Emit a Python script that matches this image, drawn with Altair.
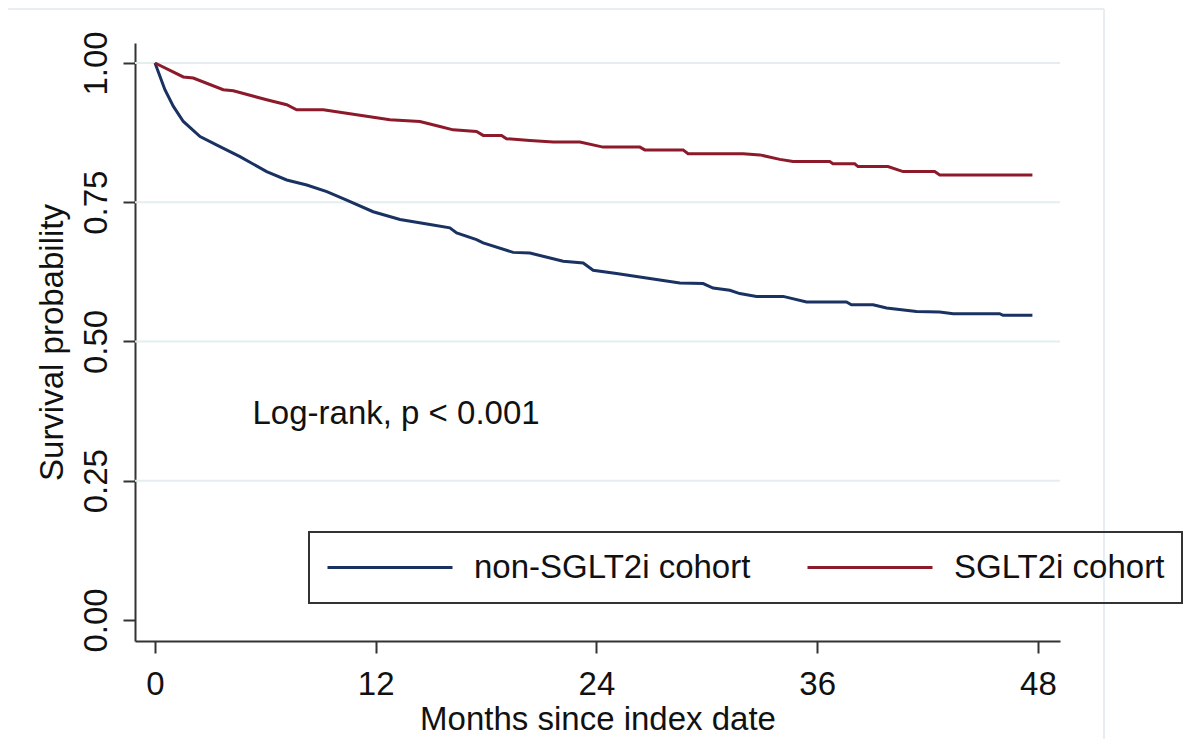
import altair as alt
import pandas as pd

# ---- data ----
groups = ["non-SGLT2i cohort", "SGLT2i cohort"]
colors = ["#1a3262", "#8c1a2a"]

months_non = [0, 0.54, 1.0, 1.54, 2.45, 3.53, 4.62, 6.07, 7.16, 8.25, 9.34, 10.42,
              11.86, 13.32, 14.95, 16.03, 16.4, 17.48, 17.84, 19.47, 20.38, 22.19,
              23.28, 23.82, 25.09, 26.72, 28.53, 29.8, 30.34, 31.25, 31.79, 32.7,
              34.15, 35.42, 37.59, 37.86, 39.04, 39.77, 41.4, 42.66, 43.39, 45.92,
              46.1, 47.7]
surv_non = [1.0, 0.952, 0.922, 0.895, 0.868, 0.850, 0.832, 0.805, 0.790, 0.781, 0.769,
            0.754, 0.733, 0.719, 0.710, 0.704, 0.695, 0.683, 0.677, 0.660, 0.659, 0.644,
            0.641, 0.628, 0.622, 0.614, 0.605, 0.604, 0.596, 0.592, 0.586, 0.581,
            0.581, 0.571, 0.571, 0.566, 0.566, 0.560, 0.554, 0.553, 0.550, 0.550,
            0.547, 0.547]

months_sglt = [0, 1.54, 2.08, 3.71, 4.26, 6.07, 7.16, 7.70, 9.15, 10.96, 12.77, 14.4,
               15.49, 16.21, 17.48, 17.84, 18.84, 19.11, 20.38, 21.65, 23.1, 24.36,
               26.36, 26.63, 28.71, 28.98, 31.97, 32.88, 33.97, 34.69, 36.68, 36.86,
               38.04, 38.22, 39.85, 40.67, 42.39, 42.66, 47.7]
surv_sglt = [1.0, 0.975, 0.973, 0.952, 0.950, 0.934, 0.925, 0.916, 0.916, 0.907, 0.898,
             0.895, 0.886, 0.880, 0.877, 0.870, 0.870, 0.864, 0.861, 0.858, 0.858, 0.849,
             0.849, 0.844, 0.844, 0.837, 0.837, 0.835, 0.827, 0.823, 0.823, 0.819,
             0.819, 0.814, 0.814, 0.805, 0.805, 0.799, 0.799]

x_ticks = [0, 12, 24, 36, 48]
y_ticks = [0.0, 0.25, 0.5, 0.75, 1.0]
grid_values = [0.25, 0.5, 0.75, 1.0]
annotation_text = ["Log-rank, p < 0.001"]
annotation_month = [5.3]
annotation_surv = [0.369]

FONT = "Liberation Sans"
INK = "#111111"
AXIS = "#333333"

rows = []
for g, ms, ss in [(groups[0], months_non, surv_non), (groups[1], months_sglt, surv_sglt)]:
    for i, (m, s) in enumerate(zip(ms, ss)):
        rows.append({"group": g, "month": m, "surv": s, "idx": i})
curves = pd.DataFrame(rows)
grid_df = pd.DataFrame({"surv": grid_values})
ann_df = pd.DataFrame({"month": annotation_month, "surv": annotation_surv, "label": annotation_text})

xscale = alt.Scale(domain=[-1.087, 49.2], nice=False, zero=False)
yscale = alt.Scale(domain=[-0.0377, 1.0359], nice=False, zero=False)

x_axis = alt.Axis(values=x_ticks, title="Months since index date",
                  grid=False, labelFlush=False, labelOverlap=False,
                  tickSize=12, tickWidth=2, tickColor=AXIS,
                  domainColor=AXIS, domainWidth=2,
                  labelFont=FONT, labelFontSize=33, labelColor=INK,
                  labelBaseline="alphabetic", labelPadding=41,
                  titleFont=FONT, titleFontSize=33, titleFontWeight="normal",
                  titleColor=INK, titleX=462.5, titleY=88,
                  titleAlign="center", titleBaseline="alphabetic")
y_axis = alt.Axis(values=y_ticks, format=".2f", title="Survival probability",
                  grid=False, labelFlush=False, labelOverlap=False,
                  tickSize=12, tickWidth=2, tickColor=AXIS,
                  domainColor=AXIS, domainWidth=2,
                  labelFont=FONT, labelFontSize=33, labelColor=INK,
                  labelAngle=270, labelAlign="center",
                  labelBaseline="alphabetic", labelPadding=17,
                  titleFont=FONT, titleFontSize=33, titleFontWeight="normal",
                  titleColor=INK, titleAngle=270, titleX=-72.5, titleY=299,
                  titleAlign="center", titleBaseline="alphabetic")

grid = alt.Chart(grid_df).mark_rule(color="#e4edf0", strokeWidth=2).encode(
    y=alt.Y("surv:Q", scale=yscale, axis=y_axis)
)

frame_top = alt.Chart(grid_df.head(1)).mark_rule(color="#e6eef3", strokeWidth=2).encode(
    x=alt.value(-135), x2=alt.value(969), y=alt.value(-34)
)
frame_right = alt.Chart(grid_df.head(1)).mark_rule(color="#e6eef3", strokeWidth=2).encode(
    x=alt.value(969), y=alt.value(-34), y2=alt.value(706)
)

lines = alt.Chart(curves).mark_line(strokeWidth=3, clip=True).encode(
    x=alt.X("month:Q", scale=xscale, axis=x_axis),
    y=alt.Y("surv:Q", scale=yscale, axis=y_axis),
    color=alt.Color("group:N", scale=alt.Scale(domain=groups, range=colors),
                    legend=alt.Legend(title=None, orient="none", legendX=174, legendY=489,
                                      direction="horizontal", symbolType="stroke",
                                      symbolSize=15625, symbolStrokeWidth=3,
                                      clipHeight=37, labelFont=FONT, labelFontSize=33,
                                      labelColor=INK, labelOffset=20, labelLimit=600,
                                      columnPadding=55, padding=17,
                                      strokeColor=AXIS)),
    order="idx:Q",
)

text = alt.Chart(ann_df).mark_text(align="left", baseline="middle", font=FONT,
                                    fontSize=33, color=INK).encode(
    x=alt.X("month:Q", scale=xscale, axis=x_axis),
    y=alt.Y("surv:Q", scale=yscale, axis=y_axis),
    text="label:N",
)

chart = alt.layer(grid, frame_top, frame_right, lines, text).properties(
    width=925, height=598,
    autosize=alt.AutoSizeParams(type="none"),
    padding={"left": 127, "top": 35, "right": 132, "bottom": 98},
    background="white",
).configure_view(stroke=None).configure_legend(strokeWidth=2)

chart.save("out.html", embed_options={"renderer": "svg", "actions": False})
